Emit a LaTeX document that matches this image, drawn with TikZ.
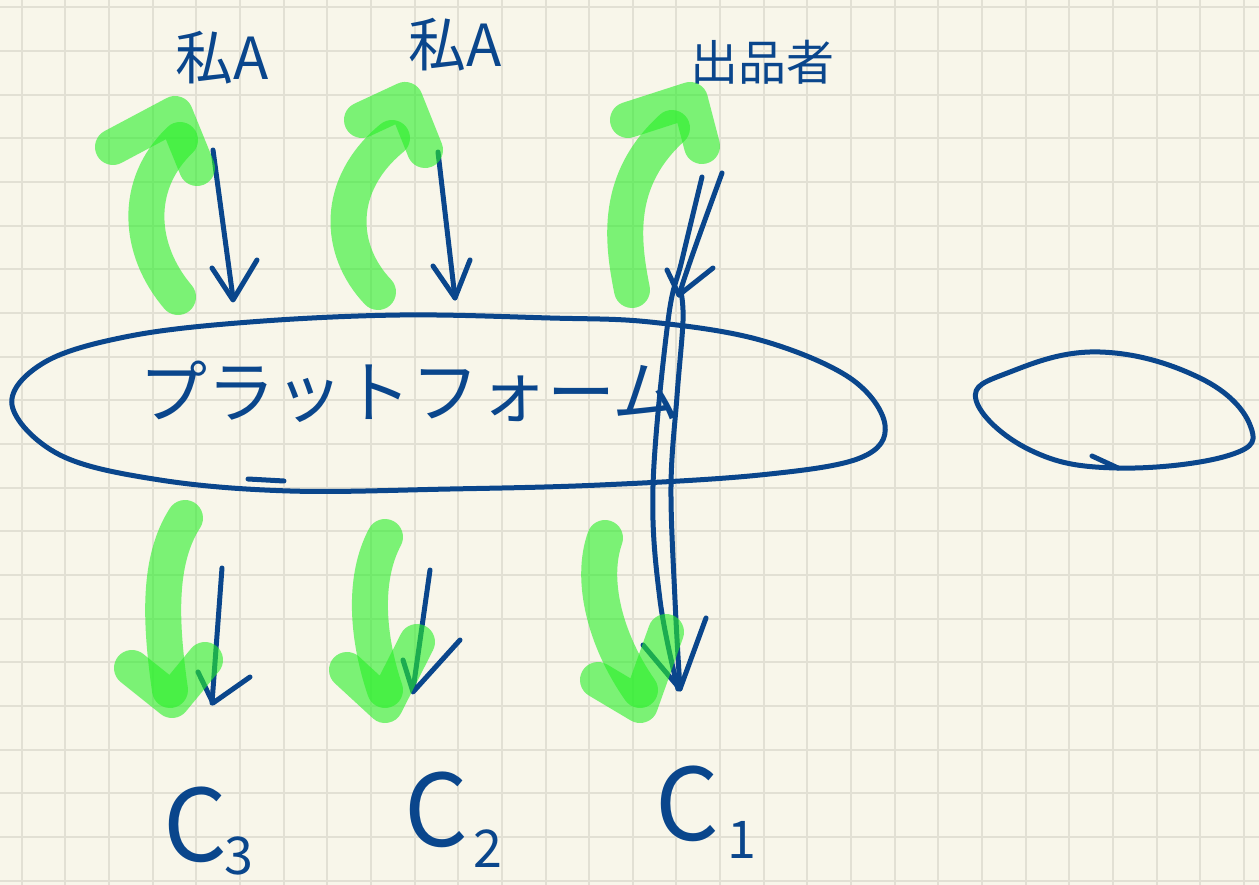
\documentclass[tikz,border=0pt]{standalone}
\usepackage{fontspec}
\newfontfamily\jpfont{Noto Sans CJK JP}
\usetikzlibrary{positioning}
\definecolor{inkblue}{RGB}{10,70,140}
\definecolor{hlgreen}{RGB}{40,240,40}
\definecolor{paper}{RGB}{248,246,234}
\definecolor{gridgray}{RGB}{226,224,212}

\begin{document}
\begin{tikzpicture}[x=1pt,y=-1pt,
  ink/.style={draw=inkblue,line width=5pt,line cap=round,line join=round},
  hl/.style={draw=hlgreen,draw opacity=0.6,line width=36pt,
             line cap=round,line join=round},
  lbl/.style={text=inkblue,inner sep=0pt,font=\jpfont\fontsize{58}{58}\selectfont},
  cname/.style={text=inkblue,inner sep=0pt,font=\jpfont\fontsize{100}{100}\selectfont},
  cdig/.style={text=inkblue,inner sep=0pt,font=\jpfont\fontsize{52}{52}\selectfont},
  gridline/.style={draw=gridgray,line width=2pt}
]
  % Paper and grid
  \fill[paper] (0,0) rectangle (1259,885);
  \useasboundingbox (0,0) rectangle (1259,885);
  \foreach \i in {0,...,28}
    \draw[gridline] ({21.7+43.65*\i},0) -- ++(0,885);
  \foreach \j in {0,...,20}
    \draw[gridline] (0,{7.5+43.65*\j}) -- ++(1259,0);

  % Top labels
  \node[lbl] (me1) at (222,58) {私A};
  \node[lbl] (me2) at (455,45) {私A};
  \node[lbl,font=\jpfont\fontsize{48}{48}\selectfont] (seller) at (762,62) {出品者};

  % Platform
  \draw[ink] plot[smooth cycle,tension=0.6] coordinates {
    (12,405) (45,362) (130,336) (250,322) (400,315) (550,318) (650,322)
    (760,340) (850,378) (885,425) (860,458) (760,475) (600,485) (450,489)
    (290,491) (160,480) (60,455)};
  \draw[ink] (248,479) -- (284,481);
  \node[lbl,font=\jpfont\fontsize{68}{68}\selectfont] (pf) at (410,392) {プラットフォーム};

  % Loop on the right
  \draw[ink] plot[smooth cycle,tension=0.7] coordinates {
    (976,400) (1010,372) (1100,352) (1200,378) (1250,425) (1230,455)
    (1117,468) (1030,450)};
  \draw[ink] (1092,456) -- (1118,468);

  % Customers
  \node[cname] (c3) at (195,825) {C};
  \node[cdig] (d3) at (239,856) {3};
  \node[cname] (c2) at (436,810) {C};
  \node[cdig] (d2) at (488,849) {2};
  \node[cname] (c1) at (687,804) {C};
  \node[cdig] (d1) at (742,840) {1};

  % Ink arrows
  \draw[ink] (213,150) -- (233,298);
  \draw[ink] (212,268) -- (233,300) -- (257,260);
  \draw[ink] (438,152) -- (455,298);
  \draw[ink] (433,266) -- (455,298) -- (470,260);
  \draw[ink] (222,568) -- (212,703);
  \draw[ink] (198,672) -- (213,703) -- (250,677);
  \draw[ink] (430,570) -- (413,690);
  \draw[ink] (403,660) -- (413,692) -- (460,640);

  % Seller to C1
  \draw[ink] (722,173) .. controls (705,220) and (690,260) .. (679,295);
  \draw[ink] (667,270) -- (679,295) -- (713,268);
  \draw[ink] plot[smooth,tension=0.6] coordinates {
    (702,177) (682,260) (668,321) (653,486) (660,600) (678,689)};
  \draw[ink] plot[smooth,tension=0.6] coordinates {
    (681,292) (683,321) (677,396) (671,486) (675,600) (680,689)};
  \draw[ink] (643,645) -- (680,689) -- (706,618);

  % Highlighter strokes up
  \draw[hl] (178,297) .. controls (138,250) and (133,185) .. (180,140);
  \draw[hl] (113,147) -- (175,114) -- (197,168);
  \draw[hl] (378,292) .. controls (338,250) and (335,185) .. (392,138);
  \draw[hl] (362,120) -- (405,100) -- (425,150);
  \draw[hl] (632,290) .. controls (622,240) and (615,180) .. (672,128);
  \draw[hl] (628,120) -- (690,100) -- (702,146);

  % Highlighter strokes down
  \draw[hl] (185,518) .. controls (158,560) and (160,620) .. (170,690);
  \draw[hl] (132,668) -- (172,700) -- (205,660);
  \draw[hl] (385,537) .. controls (362,580) and (368,640) .. (385,690);
  \draw[hl] (347,670) -- (385,705) -- (417,642);
  \draw[hl] (605,538) .. controls (590,580) and (605,640) .. (640,690);
  \draw[hl] (598,680) -- (640,705) -- (666,632);
\end{tikzpicture}
\end{document}
